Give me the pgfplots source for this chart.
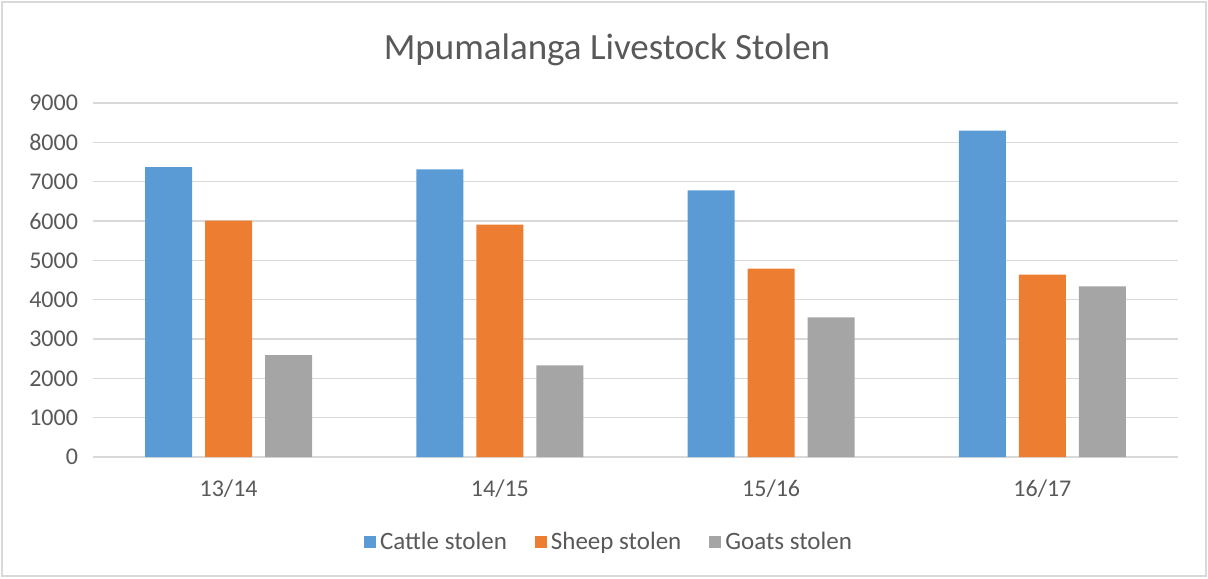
\documentclass[border=0pt]{standalone}
\usepackage{pgfplots}
\pgfplotsset{compat=1.18}
\usepackage{fontspec}
\setmainfont{Carlito}
\definecolor{cblue}{HTML}{5B9BD5}
\definecolor{corange}{HTML}{ED7D31}
\definecolor{cgray}{HTML}{A5A5A5}
\definecolor{gridc}{HTML}{D9D9D9}
\definecolor{txt}{HTML}{595959}
\begin{document}
\begin{tikzpicture}
\useasboundingbox (-46.5pt,-60.5pt) rectangle (557.5pt,228.5pt);
\draw[gridc,line width=0.8pt] (-45.5pt,-59.5pt) rectangle (556.5pt,227.5pt);
\begin{axis}[
  at={(0pt,0pt)}, anchor=south west,
  scale only axis, width=542.5pt, height=177pt,
  ybar=6.5pt, bar width=23.5pt,
  xmin=-0.5, xmax=3.5, ymin=0, ymax=9000,
  xtick=data, xticklabels={13/14,14/15,15/16,16/17},
  ytick={0,1000,...,9000},
  axis line style={draw=none},
  axis x line*=bottom, axis y line*=left,
  major tick length=0pt,
  ymajorgrids, grid style={gridc,line width=0.8pt},
  extra y ticks={0}, extra y tick style={grid style={gridc,line width=0.9pt}},
  extra y tick labels={},
  tick label style={font=\fontsize{12}{14}\selectfont, text=txt},
  /pgf/number format/assume math mode=true,
  /pgf/number format/1000 sep={},
  yticklabel style={xshift=-4pt},
  xticklabel style={yshift=-8pt},
  legend style={at={(0.4765,-0.24)}, anchor=center, draw=none, fill=none,
    font=\fontsize{12.5}{14}\selectfont, text=txt, legend columns=-1,
    /tikz/every even column/.append style={column sep=12pt}},
  legend image code/.code={\fill[#1,draw=none] (0pt,-3pt) rectangle (6pt,3pt);},
]
\addplot[fill=cblue, draw=none] coordinates {(0,7367) (1,7310) (2,6780) (3,8300)};
\addplot[fill=corange, draw=none] coordinates {(0,6010) (1,5910) (2,4790) (3,4640)};
\addplot[fill=cgray, draw=none] coordinates {(0,2590) (1,2330) (2,3550) (3,4340)};
\legend{Cattle stolen, Sheep stolen, Goats stolen}
\end{axis}
\node[text=txt, font=\fontsize{18.5}{22}\selectfont] at (257pt,203.5pt) {Mpumalanga Livestock Stolen};
\end{tikzpicture}
\end{document}
